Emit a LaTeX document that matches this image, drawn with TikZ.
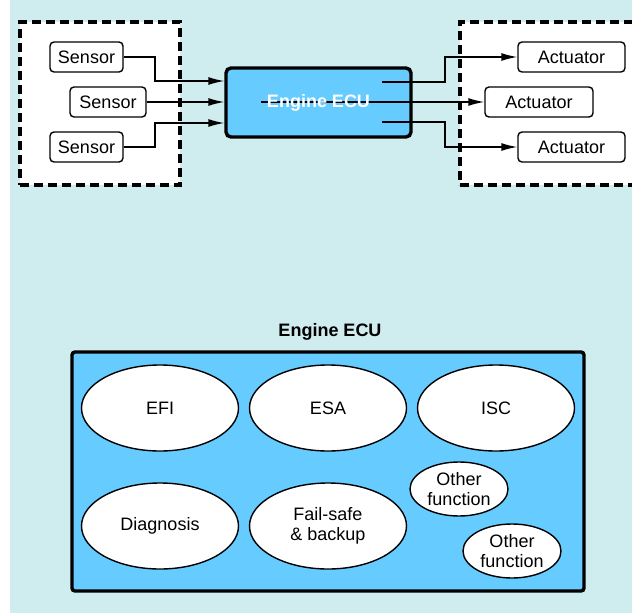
\documentclass[tikz,border=0pt]{standalone}
\usepackage{fontspec}
\setmainfont{Liberation Sans}
\usetikzlibrary{arrows.meta,positioning,shapes.geometric}
\definecolor{bgcyan}{RGB}{207,236,239}
\definecolor{ecublue}{RGB}{102,204,255}

\begin{document}
\begin{tikzpicture}[x=1pt,y=-1pt,
      font=\fontsize{18}{20}\selectfont,
      box/.style={draw,line width=1.4pt,rounded corners=4pt,fill=white,
                  minimum height=30pt,inner sep=0pt},
      grp/.style={draw,line width=3.4pt,dash pattern=on 9pt off 5pt,fill=white,
                  inner sep=0pt},
      ecu/.style={draw,line width=3.4pt,rounded corners=5pt,fill=ecublue,inner sep=0pt},
      fn/.style={ellipse,draw,line width=1.4pt,fill=white,inner sep=0pt,align=center},
      ar/.style={-{Latex[length=16pt,width=8pt]},line width=1.4pt}
    ]
    \clip (0,0) rectangle (632,613);
    \fill[bgcyan] (10,0) rectangle (632,613);

    % top: sensors -> ECU -> actuators
    \node[grp,minimum width=160pt,minimum height=163pt] (lgrp) at (100,103.5) {};
    \node[grp,minimum width=180pt,minimum height=163pt] (rgrp) at (550,103.5) {};

    \node[box,minimum width=73pt]  (s1) at (86.5,57) {Sensor};
    \node[box,minimum width=76pt]  (s2) at (108,102) {Sensor};
    \node[box,minimum width=73pt]  (s3) at (86.5,147) {Sensor};

    \node[box,minimum width=107pt] (a1) at (571.5,57) {Actuator};
    \node[box,minimum width=108pt] (a2) at (539,102) {Actuator};
    \node[box,minimum width=107pt] (a3) at (571.5,147) {Actuator};

    \node[ecu,minimum width=185pt,minimum height=69pt] (ecu) at (318.5,102.5) {};

    \draw[ar] (s1.east) -| (155,81) -- (ecu.west |- 0,81);
    \draw[ar] (s2.east) -- (s2.east -| ecu.west);
    \draw[ar] (s3.east) -| (155,123) -- (ecu.west |- 0,123);

    \coordinate (o1) at (382,82);
    \coordinate (o2) at (261,102);
    \coordinate (o3) at (382,122);
    \draw[ar] (o1) -| (445,57) -- (a1.west);
    \draw[ar] (o2) -- (a2.west);
    \draw[ar] (o3) -| (445,147) -- (a3.west);

    \node[text=white,font=\fontsize{18}{20}\selectfont\bfseries] (ecutxt) at (ecu.center) {Engine ECU};

    % bottom: inside the ECU
    \node[font=\fontsize{18}{20}\selectfont\bfseries] (title) at (330,332) {Engine ECU};
    \node[ecu,rounded corners=3pt,minimum width=512pt,minimum height=239pt] (body) at (328,471.5) {};

    \node[fn,minimum width=157pt,minimum height=86pt] (efi)  at (160,408) {EFI};
    \node[fn,minimum width=157pt,minimum height=86pt] (esa)  at (328,408) {ESA};
    \node[fn,minimum width=157pt,minimum height=86pt] (isc)  at (496,408) {ISC};
    \node[fn,minimum width=157pt,minimum height=86pt] (diag) at (160,526) {Diagnosis};
    \node[fn,minimum width=157pt,minimum height=86pt] (fail) at (328,526) {Fail-safe\\\& backup};
    \node[fn,minimum width=98pt,minimum height=54pt]  (oth1) at (459,489) {Other\\function};
    \node[fn,minimum width=98pt,minimum height=54pt]  (oth2) at (512,551) {Other\\function};
\end{tikzpicture}
\end{document}
